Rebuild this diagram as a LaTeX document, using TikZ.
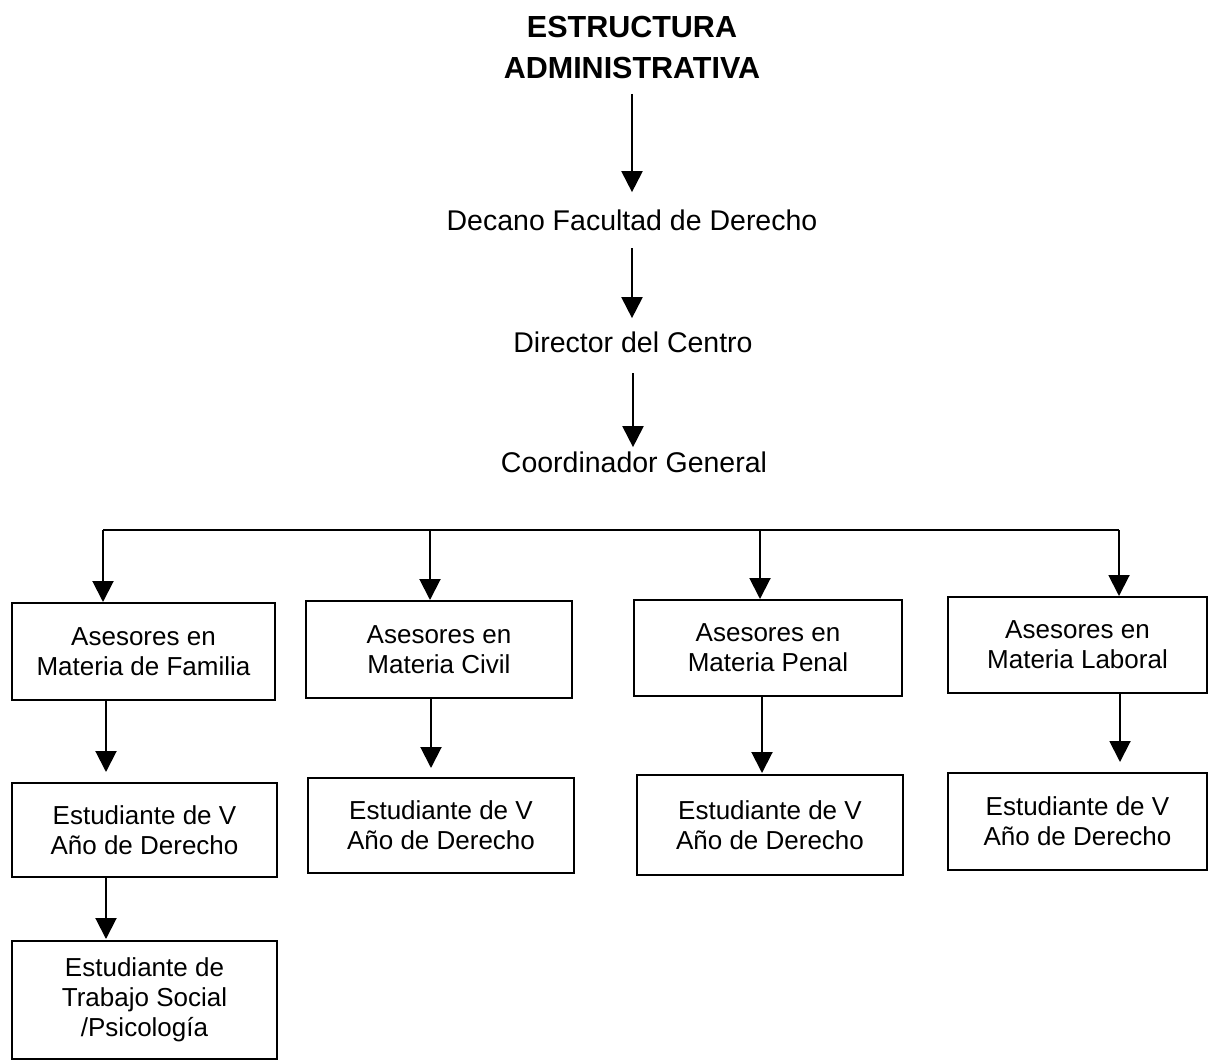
\documentclass[tikz,border=0pt]{standalone}
\usepackage{fontspec}
\setmainfont{Liberation Sans}
\usetikzlibrary{arrows.meta}
\begin{document}
\begin{tikzpicture}[x=1pt,y=-1pt,
  arr/.style={-{Triangle[width=21pt,length=21pt]}, line width=2pt},
  bus/.style={line width=2pt},
  box/.style={draw, line width=2pt, inner sep=0pt, align=center,
    font=\fontsize{26}{30}\selectfont},
  lbl/.style={inner sep=0pt, anchor=base, font=\fontsize{28.5}{34}\selectfont},
  ttl/.style={inner sep=0pt, anchor=north, align=center,
    font=\fontsize{30.5}{41}\selectfont\bfseries}]
\useasboundingbox (0,0) rectangle (1208,1060);
\fill[white] (0,0) rectangle (1208,1060);

% top chain
\node[ttl] (t) at (632,16) {ESTRUCTURA\\ADMINISTRATIVA};
\node[lbl] (d) at (632,230) {Decano Facultad de Derecho};
\node[lbl] (dc) at (633,352) {Director del Centro};
\node[lbl] (cg) at (634,472) {Coordinador General};

\draw[arr, shorten <=15pt, shorten >=17pt] (t.south) -- (d.north -| t.south);
\draw[arr, shorten <=18pt, shorten >=13pt] (d.south) -- (dc.north -| d.south);
\draw[arr, shorten <=21pt, shorten >=4pt] (dc.south) -- (cg.north -| dc.south);

% boxes
\node[box, minimum width=263pt, minimum height=97pt] (f1) at (143.5,651.5) {Asesores en\\Materia de Familia};
\node[box, minimum width=265pt, minimum height=94pt] (f2) at (144.5,830) {Estudiante de V\\Año de Derecho};
\node[box, minimum width=265pt, minimum height=118pt] (f3) at (144.5,1000) {Estudiante de\\Trabajo Social\\/Psicología};

\node[box, minimum width=266pt, minimum height=97pt] (c1) at (439,649.5) {Asesores en\\Materia Civil};
\node[box, minimum width=266pt, minimum height=95pt] (c2) at (441,825.5) {Estudiante de V\\Año de Derecho};

\node[box, minimum width=268pt, minimum height=96pt] (p1) at (768,648) {Asesores en\\Materia Penal};
\node[box, minimum width=266pt, minimum height=100pt] (p2) at (770,825) {Estudiante de V\\Año de Derecho};

\node[box, minimum width=259pt, minimum height=96pt] (l1) at (1077.5,645) {Asesores en\\Materia Laboral};
\node[box, minimum width=259pt, minimum height=97pt] (l2) at (1077.5,821.5) {Estudiante de V\\Año de Derecho};

% bus
\coordinate (h1) at (103,530);
\coordinate (h2) at (430,530);
\coordinate (h3) at (760,530);
\coordinate (h4) at (1119,530);
\draw[bus] (h1) -- (h4);
\draw[arr] (h1) -- (f1.north -| h1);
\draw[arr] (h2) -- (c1.north -| h2);
\draw[arr] (h3) -- (p1.north -| h3);
\draw[arr] (h4) -- (l1.north -| h4);

% lower arrows
\coordinate (v1) at (106,0);
\coordinate (v2) at (431,0);
\coordinate (v3) at (762,0);
\coordinate (v4) at (1120,0);
\draw[arr, shorten >=10pt] (f1.south -| v1) -- (f2.north -| v1);
\draw[arr, shorten >=1pt] (f2.south -| v1) -- (f3.north -| v1);
\draw[arr, shorten >=9pt] (c1.south -| v2) -- (c2.north -| v2);
\draw[arr, shorten >=1pt] (p1.south -| v3) -- (p2.north -| v3);
\draw[arr, shorten >=10pt] (l1.south -| v4) -- (l2.north -| v4);
\end{tikzpicture}
\end{document}
